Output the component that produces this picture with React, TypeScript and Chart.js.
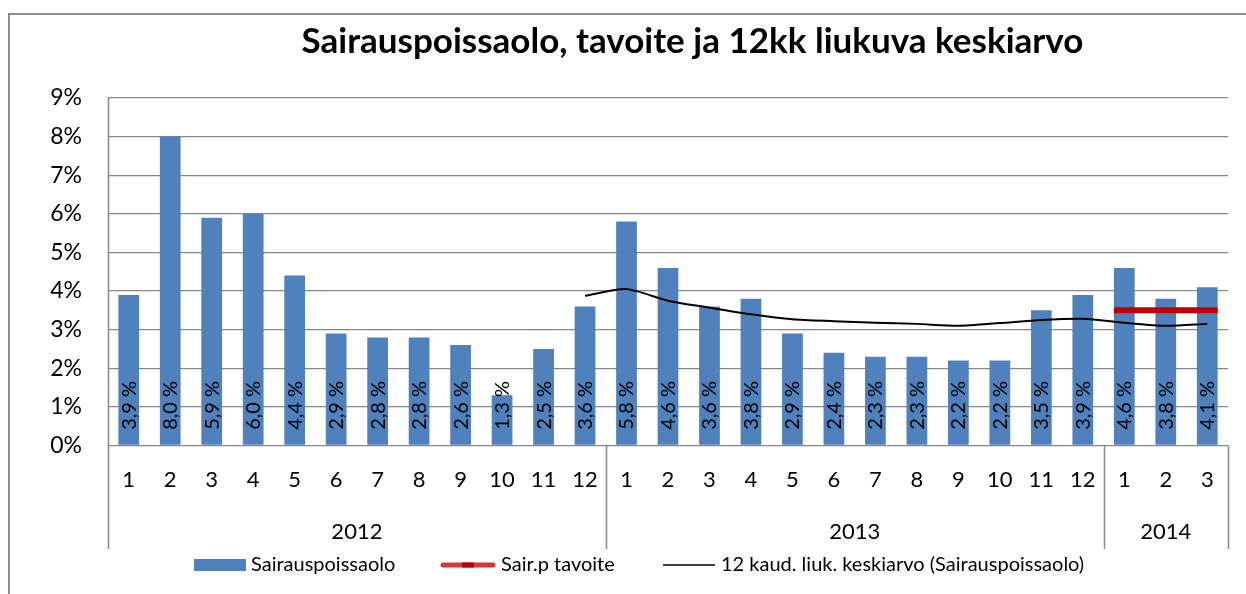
import { useEffect, useRef } from 'react';
import { Chart, registerables } from 'chart.js';

Chart.register(...registerables);

const monthLabels = ['1', '2', '3', '4', '5', '6', '7', '8', '9', '10', '11', '12', '1', '2', '3', '4', '5', '6', '7', '8', '9', '10', '11', '12', '1', '2', '3'];
const yearLabels = ['2012', '2012', '2012', '2012', '2012', '2012', '2012', '2012', '2012', '2012', '2012', '2012', '2013', '2013', '2013', '2013', '2013', '2013', '2013', '2013', '2013', '2013', '2013', '2013', '2014', '2014', '2014'];
const sickLeave = [3.9, 8.0, 5.9, 6.0, 4.4, 2.9, 2.8, 2.8, 2.6, 1.3, 2.5, 3.6, 5.8, 4.6, 3.6, 3.8, 2.9, 2.4, 2.3, 2.3, 2.2, 2.2, 3.5, 3.9, 4.6, 3.8, 4.1];
const movingAvg = [null, null, null, null, null, null, null, null, null, null, null, 3.88, 4.05, 3.75, 3.57, 3.40, 3.27, 3.22, 3.18, 3.15, 3.10, 3.17, 3.25, 3.28, 3.18, 3.10, 3.15];
const targetValues = [3.5, 3.5, 3.5];
const targetFirstIndex = 24;
const yTicks = [0, 1, 2, 3, 4, 5, 6, 7, 8, 9];

const TITLE = 'Sairauspoissaolo, tavoite ja 12kk liukuva keskiarvo';
const SERIES_BAR = 'Sairauspoissaolo';
const SERIES_TARGET = 'Sair.p tavoite';
const SERIES_AVG = '12 kaud. liuk. keskiarvo (Sairauspoissaolo)';

const BAR_COLOR = '#4F81BD';
const TARGET_COLOR = '#C00000';
const GRID_COLOR = '#878787';
const FONT = 'Lato';
const BAR_PCT = 0.5;

export default function App() {
  const canvasRef = useRef<HTMLCanvasElement | null>(null);

  useEffect(() => {
    const canvas = canvasRef.current;
    if (!canvas) return;

    const halfBar = BAR_PCT / 2;
    const targetPoints = targetValues.map((v, i) => ({
      x: targetFirstIndex + i + (i === 0 ? -halfBar : i === targetValues.length - 1 ? halfBar : 0),
      y: v,
    }));

    const decor = {
      id: 'decor',
      afterDatasetsDraw(chart: any) {
        const ctx = chart.ctx;
        const meta = chart.getDatasetMeta(0);
        ctx.save();
        ctx.fillStyle = '#000';
        ctx.font = `20px ${FONT}`;
        ctx.textAlign = 'center';
        ctx.textBaseline = 'middle';
        meta.data.forEach((el: any, i: number) => {
          const txt = sickLeave[i].toFixed(1).replace('.', ',') + ' %';
          ctx.save();
          ctx.translate(el.x + 0.5, el.base - 39.5);
          ctx.rotate(-Math.PI / 2);
          ctx.fillText(txt, 0, 0);
          ctx.restore();
        });
        ctx.restore();
      },
      afterDraw(chart: any) {
        const ctx = chart.ctx;
        const area = chart.chartArea;
        const xs = chart.scales.x;
        const catW = (area.right - area.left) / monthLabels.length;
        const axisBottom = 549;
        ctx.save();

        // outer frame
        ctx.strokeStyle = '#8E8E8E';
        ctx.lineWidth = 2;
        ctx.beginPath();
        ctx.moveTo(9, 600);
        ctx.lineTo(9, 14);
        ctx.lineTo(1260, 14);
        ctx.stroke();

        // title
        ctx.fillStyle = '#000';
        ctx.font = `bold 35px ${FONT}`;
        ctx.textAlign = 'center';
        ctx.textBaseline = 'alphabetic';
        ctx.fillText(TITLE, 692.5, 53);

        // left axis line
        ctx.strokeStyle = GRID_COLOR;
        ctx.lineWidth = 1.5;
        ctx.beginPath();
        ctx.moveTo(Math.round(area.left) + 0.5, area.top);
        ctx.lineTo(Math.round(area.left) + 0.5, axisBottom);
        ctx.stroke();

        // month labels
        ctx.font = `22px ${FONT}`;
        ctx.textBaseline = 'middle';
        monthLabels.forEach((m, i) => {
          ctx.fillText(m, xs.getPixelForValue(i), 480);
        });

        // year groups
        let start = 0;
        for (let i = 1; i <= yearLabels.length; i++) {
          if (i === yearLabels.length || yearLabels[i] !== yearLabels[start]) {
            const x0 = xs.getPixelForValue(start);
            const x1 = xs.getPixelForValue(i - 1);
            ctx.fillText(yearLabels[start], (x0 + x1) / 2, 531.5);
            const sepX = Math.round(x1 + catW / 2) + 0.5;
            ctx.beginPath();
            ctx.moveTo(sepX, area.bottom);
            ctx.lineTo(sepX, axisBottom);
            ctx.stroke();
            start = i;
          }
        }

        // legend
        const ly = 565;
        ctx.font = `20px ${FONT}`;
        ctx.textAlign = 'left';
        ctx.fillStyle = BAR_COLOR;
        ctx.fillRect(194, ly - 6, 52, 12);
        ctx.fillStyle = '#000';
        ctx.fillText(SERIES_BAR, 251, ly);

        ctx.strokeStyle = '#D03A3A';
        ctx.lineWidth = 5;
        ctx.lineCap = 'round';
        ctx.beginPath();
        ctx.moveTo(443, ly);
        ctx.lineTo(493, ly);
        ctx.stroke();
        ctx.fillStyle = TARGET_COLOR;
        ctx.fillRect(462, ly - 2.5, 12, 5);
        ctx.fillStyle = '#000';
        ctx.fillText(SERIES_TARGET, 501, ly);

        ctx.strokeStyle = '#000';
        ctx.lineWidth = 1.5;
        ctx.lineCap = 'butt';
        ctx.beginPath();
        ctx.moveTo(663, ly);
        ctx.lineTo(715, ly);
        ctx.stroke();
        ctx.fillText(SERIES_AVG, 721, ly);

        ctx.restore();
      },
    };

    const chart = new Chart(canvas, {
      type: 'bar',
      data: {
        labels: monthLabels,
        datasets: [
          {
            type: 'bar',
            label: SERIES_BAR,
            data: sickLeave,
            backgroundColor: BAR_COLOR,
            borderWidth: 0,
            barPercentage: BAR_PCT,
            categoryPercentage: 1,
            grouped: false,
            order: 3,
          } as any,
          {
            type: 'line',
            label: SERIES_TARGET,
            data: targetPoints,
            xAxisID: 'xt',
            borderColor: TARGET_COLOR,
            borderWidth: 6,
            pointRadius: 0,
            order: 2,
          } as any,
          {
            type: 'line',
            label: SERIES_AVG,
            data: movingAvg,
            borderColor: '#000',
            borderWidth: 2,
            pointRadius: 0,
            tension: 0.25,
            spanGaps: false,
            order: 1,
          } as any,
        ],
      },
      options: {
        responsive: false,
        animation: false,
        events: [],
        layout: { padding: { left: 0, right: 18, top: 98, bottom: 0 } },
        plugins: {
          legend: { display: false },
          title: { display: false },
          tooltip: { enabled: false },
        },
        scales: {
          x: {
            type: 'category',
            offset: true,
            grid: { display: false },
            border: { display: false },
            ticks: { display: false },
            afterFit(s: any) {
              s.height = 148.5;
            },
          },
          xt: {
            type: 'linear',
            min: -0.5,
            max: monthLabels.length - 0.5,
            offset: false,
            grace: 0,
            display: false,
          },
          y: {
            min: yTicks[0],
            max: yTicks[yTicks.length - 1],
            afterBuildTicks(s: any) {
              s.ticks = yTicks.map((v) => ({ value: v }));
            },
            ticks: {
              callback: (v: any) => v + '%',
              color: '#000',
              font: { family: FONT, size: 23 },
              padding: 26,
            },
            grid: { color: GRID_COLOR, drawTicks: false, lineWidth: 1.3 },
            border: { display: false },
            afterFit(s: any) {
              s.width = 108;
            },
          },
        },
      } as any,
      plugins: [decor],
    });

    return () => chart.destroy();
  }, []);

  return (
    <div style={{ position: 'absolute', left: 0, top: 0, width: 1246, height: 594, background: '#fff' }}>
      <canvas ref={canvasRef} width={1246} height={594} style={{ display: 'block' }} />
    </div>
  );
}
